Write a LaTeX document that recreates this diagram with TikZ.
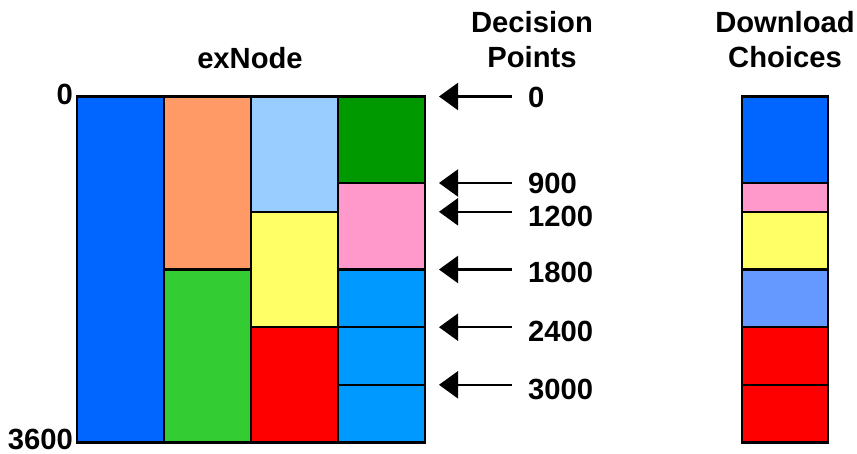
\documentclass[tikz,border=0pt]{standalone}
\usepackage{fontspec}
\setmainfont{Liberation Sans}
\usetikzlibrary{arrows.meta}
\definecolor{exBlue}{HTML}{0066FF}
\definecolor{exOrange}{HTML}{FF9966}
\definecolor{exGreen}{HTML}{33CC33}
\definecolor{exLBlue}{HTML}{99CCFF}
\definecolor{exYellow}{HTML}{FFFF66}
\definecolor{exRed}{HTML}{FF0000}
\definecolor{exDGreen}{HTML}{009900}
\definecolor{exPink}{HTML}{FF99CC}
\definecolor{exSky}{HTML}{0099FF}
\definecolor{exPeri}{HTML}{6699FF}
\begin{document}
\begin{tikzpicture}[x=1pt,y=-1pt,
  cell/.style={draw=black,line width=2.2pt},
  lbl/.style={font=\bfseries\fontsize{29.2}{35}\selectfont,inner sep=0pt},
  ptr/.style={line width=2.2pt,-{Triangle[length=19pt,width=27pt]}}]
\useasboundingbox (0,0) rectangle (857,453);
\def\ya{96.5}\def\yb{183.0}\def\yc{211.8}\def\yd{269.5}\def\ye{327.2}\def\yf{384.8}\def\yg{442.5}
% exNode columns
\filldraw[cell,fill=exBlue] (77,\ya) rectangle (164,\yg);
\filldraw[cell,fill=exOrange] (164,\ya) rectangle (251,\yd);
\filldraw[cell,fill=exGreen] (164,\yd) rectangle (251,\yg);
\filldraw[cell,fill=exLBlue] (251,\ya) rectangle (338,\yc);
\filldraw[cell,fill=exYellow] (251,\yc) rectangle (338,\ye);
\filldraw[cell,fill=exRed] (251,\ye) rectangle (338,\yg);
\filldraw[cell,fill=exDGreen] (338,\ya) rectangle (425,\yb);
\filldraw[cell,fill=exPink] (338,\yb) rectangle (425,\yd);
\filldraw[cell,fill=exSky] (338,\yd) rectangle (425,\ye);
\filldraw[cell,fill=exSky] (338,\ye) rectangle (425,\yf);
\filldraw[cell,fill=exSky] (338,\yf) rectangle (425,\yg);
% download choices
\filldraw[cell,fill=exBlue] (742,\ya) rectangle (828,\yb);
\filldraw[cell,fill=exPink] (742,\yb) rectangle (828,\yc);
\filldraw[cell,fill=exYellow] (742,\yc) rectangle (828,\yd);
\filldraw[cell,fill=exPeri] (742,\yd) rectangle (828,\ye);
\filldraw[cell,fill=exRed] (742,\ye) rectangle (828,\yf);
\filldraw[cell,fill=exRed] (742,\yf) rectangle (828,\yg);
% titles
\node[lbl,anchor=base] (tex) at (250,68) {exNode};
\node[lbl,anchor=base,align=center] (tdp) at (532,67) {Decision\\Points};
\node[lbl,anchor=base,align=center] (tdc) at (785,67) {Download\\Choices};
\node[lbl,anchor=base east] (l0) at (73,104.5) {0};
\node[lbl,anchor=base east] (l3600) at (73,449) {3600};
% decision point labels and arrows
\node[lbl,anchor=base west] (d0) at (528,107.5) {0};
\node[lbl,anchor=base west] (d900) at (528,193.5) {900};
\node[lbl,anchor=base west] (d1200) at (528,226.5) {1200};
\node[lbl,anchor=base west] (d1800) at (528,282.5) {1800};
\node[lbl,anchor=base west] (d2400) at (528,341.5) {2400};
\node[lbl,anchor=base west] (d3000) at (528,399.5) {3000};
\foreach \n/\y in {0/\ya,900/\yb,1200/\yc,1800/\yd,2400/\ye,3000/\yf}{
  \coordinate (s\n) at (512,\y);
  \coordinate (t\n) at (439,\y);
  \draw[ptr] (s\n) -- (t\n);
}
\end{tikzpicture}
\end{document}
